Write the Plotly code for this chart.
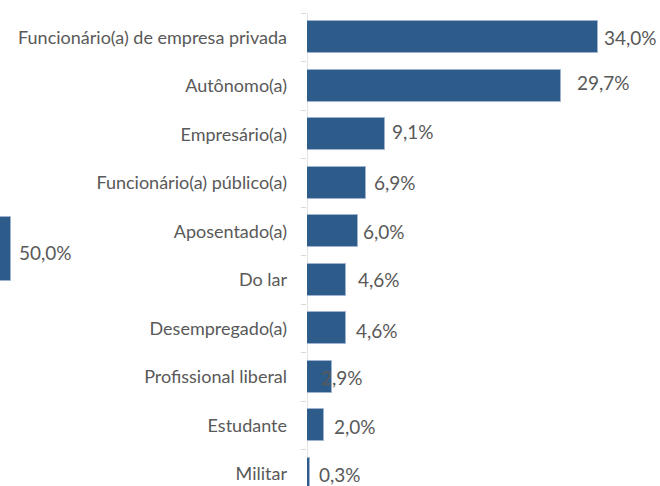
import plotly.graph_objects as go

# Occupation shares (%)
categories = [
    "Funcionário(a) de empresa privada",
    "Autônomo(a)",
    "Empresário(a)",
    "Funcionário(a) público(a)",
    "Aposentado(a)",
    "Do lar",
    "Desempregado(a)",
    "Profissional liberal",
    "Estudante",
    "Militar",
]
values = [34.0, 29.7, 9.1, 6.9, 6.0, 4.6, 4.6, 2.9, 2.0, 0.3]

# Neighbouring panel, only its right end is visible
side_values = [50.0]

# Horizontal offsets (px) of each value label from its bar end
label_dx = [5, 15, 6, 7, 4, 11, 9, -12, 9, 8]
label_dy = [0, -3, -3, 0, 0, 0, 2, 1, 1, 1]

BAR = "#2E5C8A"
EDGE = "#9DB3CF"
TXT = "#595959"
AXIS = "#D9D9D9"
FONT = "Lato"

W, H = 660, 486
x0_px = 307
px_per_unit = 8.56
x_max = (W - x0_px) / px_per_unit

pitch = 48.5
top_px = 13
y_top = -0.5 - top_px / pitch
y_bot = (H - top_px) / pitch - 0.5

def fmt(v):
    return f"{v:.1f}".replace(".", ",") + "%"

fig = go.Figure()

fig.add_trace(go.Bar(
    x=values, y=list(range(len(categories))), orientation="h",
    marker=dict(color=BAR, line=dict(color=EDGE, width=1)),
    width=0.66, xaxis="x", yaxis="y", hoverinfo="skip",
))

# clipped bar of the adjacent panel
side_px = 11
side_center = 249
side_h = 64
fig.add_trace(go.Bar(
    x=side_values, y=[0], orientation="h",
    marker=dict(color=BAR, line=dict(color=EDGE, width=1)),
    width=1, xaxis="x2", yaxis="y3", hoverinfo="skip",
))

# boundary tick marks
fig.add_trace(go.Scatter(x=[], y=[], xaxis="x", yaxis="y2", showlegend=False))

annotations = []
for i, v in enumerate(values):
    annotations.append(dict(
        x=v, y=i, xref="x", yref="y", text=fmt(v), showarrow=False,
        xanchor="left", yanchor="middle", xshift=label_dx[i] - 1, yshift=-label_dy[i],
        font=dict(family=FONT, size=19, color=TXT),
    ))
annotations.append(dict(
    x=side_values[0], y=0, xref="x2", yref="y3", text=fmt(side_values[0]),
    showarrow=False, xanchor="left", yanchor="middle", xshift=6, yshift=-3,
    font=dict(family=FONT, size=19, color=TXT),
))

fig.update_layout(
    width=W, height=H,
    margin=dict(l=0, r=0, t=0, b=0),
    paper_bgcolor="white", plot_bgcolor="white",
    showlegend=False, bargap=0,
    font=dict(family=FONT, color=TXT),
    xaxis=dict(domain=[x0_px / W, 1], range=[0, x_max], visible=False),
    yaxis=dict(
        range=[y_bot, y_top], tickmode="array",
        tickvals=list(range(len(categories))), ticktext=categories,
        ticks="", showline=False, showgrid=False, zeroline=False,
        tickfont=dict(family=FONT, size=18, color=TXT),
        ticklabelstandoff=19,
    ),
    yaxis2=dict(
        overlaying="y", anchor="x", side="left",
        range=[y_bot, y_top], tickmode="array",
        tickvals=[i - 0.5 for i in range(len(categories) + 1)],
        showticklabels=False, ticks="outside", ticklen=5, tickcolor=AXIS,
        tickwidth=1, showgrid=False, zeroline=False, showline=False,
    ),
    xaxis2=dict(domain=[0, side_px / W], range=[50 - side_px / px_per_unit, 50],
                visible=False, anchor="y3"),
    yaxis3=dict(domain=[0, 1], anchor="x2", visible=False,
                range=[-(H - side_center) / side_h, side_center / side_h]),
    shapes=[dict(type="line", xref="x", yref="y", x0=0, x1=0,
                 y0=-0.5, y1=len(categories) - 0.5,
                 line=dict(color=AXIS, width=1.5), layer="below")],
    annotations=annotations,
)

fig.write_html("out.html")
